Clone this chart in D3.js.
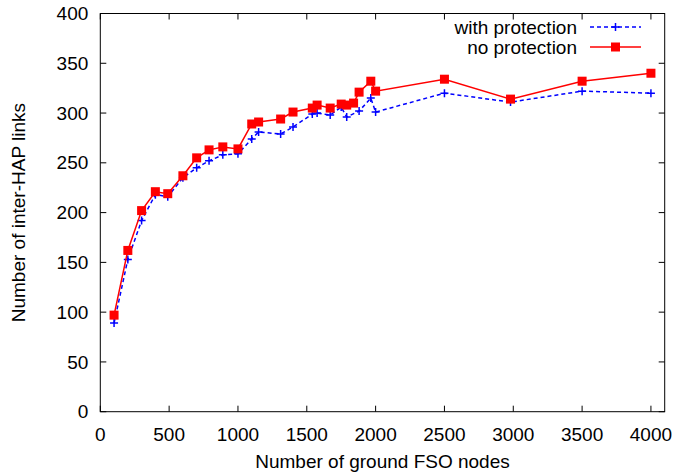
<!DOCTYPE html>
<html>
<head>
<meta charset="utf-8">
<script src="https://cdn.jsdelivr.net/npm/d3@7"></script>
<style>
  body { margin: 0; background: #fff; }
  text { font-family: "Liberation Sans", Arial, sans-serif; fill: #000; }
</style>
</head>
<body>
<div id="chart"></div>
<script>
// Number of ground FSO nodes vs number of inter-HAP links
var xTicks = [0, 500, 1000, 1500, 2000, 2500, 3000, 3500, 4000];
var yTicks = [0, 50, 100, 150, 200, 250, 300, 350, 400];

var protNodes = [100, 200, 300, 400, 490, 600, 700, 790, 890, 1000, 1100, 1150, 1310, 1400, 1540, 1575, 1670, 1750, 1790, 1880, 1965, 2000, 2500, 2980, 3500, 4000];
var protLinks = [89, 153, 192, 218, 216, 235, 245, 252, 258, 259, 274, 281, 279, 286, 299, 300, 298, 306, 296, 302, 315, 301, 320, 311, 322, 320];

var noProtNodes = [100, 200, 300, 400, 490, 600, 700, 790, 890, 1000, 1100, 1150, 1310, 1400, 1540, 1575, 1670, 1750, 1790, 1840, 1880, 1965, 2000, 2500, 2980, 3500, 4000];
var noProtLinks = [97, 162, 202, 221, 219, 237, 255, 263, 266, 264, 289, 291, 294, 301, 305, 308, 305, 309, 308, 310, 321, 332, 322, 334, 314, 332, 340];

var width = 700, height = 475;
var margin = {top: 13.5, right: 35.3, bottom: 63.3, left: 100.3};
var fontSize = 19;

var svg = d3.select("#chart").append("svg")
    .attr("width", width)
    .attr("height", height);

var x = d3.scaleLinear().domain([0, 4100]).range([margin.left, width - margin.right]);
var y = d3.scaleLinear().domain([0, 400]).range([height - margin.bottom, margin.top]);

var tickLen = 6;
var axes = svg.append("g").attr("stroke", "#000").attr("stroke-width", 1);

// mirrored inward ticks on all four sides
xTicks.forEach(function(t) {
    axes.append("line").attr("x1", x(t)).attr("x2", x(t))
        .attr("y1", y(0)).attr("y2", y(0) - tickLen);
    axes.append("line").attr("x1", x(t)).attr("x2", x(t))
        .attr("y1", y(400)).attr("y2", y(400) + tickLen);
});
yTicks.forEach(function(t) {
    axes.append("line").attr("x1", x(0)).attr("x2", x(0) + tickLen)
        .attr("y1", y(t)).attr("y2", y(t));
    axes.append("line").attr("x1", x(4100)).attr("x2", x(4100) - tickLen)
        .attr("y1", y(t)).attr("y2", y(t));
});
axes.append("rect")
    .attr("x", x(0)).attr("y", y(400))
    .attr("width", x(4100) - x(0)).attr("height", y(0) - y(400))
    .attr("fill", "none");

svg.append("g").selectAll("text").data(xTicks).enter().append("text")
    .attr("x", function(d) { return x(d); })
    .attr("y", y(0) + 29)
    .attr("text-anchor", "middle")
    .attr("font-size", fontSize)
    .text(function(d) { return d; });

svg.append("g").selectAll("text").data(yTicks).enter().append("text")
    .attr("x", x(0) - 12)
    .attr("y", function(d) { return y(d); })
    .attr("dy", "0.35em")
    .attr("text-anchor", "end")
    .attr("font-size", fontSize)
    .text(function(d) { return d; });

svg.append("text")
    .attr("x", (x(0) + x(4100)) / 2)
    .attr("y", 468)
    .attr("text-anchor", "middle")
    .attr("font-size", fontSize)
    .text("Number of ground FSO nodes");

svg.append("text")
    .attr("transform", "translate(25," + (y(200)) + ") rotate(-90)")
    .attr("text-anchor", "middle")
    .attr("font-size", fontSize)
    .text("Number of inter-HAP links");

var line = d3.line()
    .x(function(d) { return x(d[0]); })
    .y(function(d) { return y(d[1]); });

var protData = d3.zip(protNodes, protLinks);
var noProtData = d3.zip(noProtNodes, noProtLinks);

// with protection: blue dashed with plus markers
svg.append("path")
    .datum(protData)
    .attr("d", line)
    .attr("fill", "none")
    .attr("stroke", "#0000ff")
    .attr("stroke-width", 1.5)
    .attr("stroke-dasharray", "4,3");

function plus(g, cx, cy, color) {
    g.append("path")
        .attr("d", "M" + (cx - 4) + "," + cy + "h8M" + cx + "," + (cy - 4) + "v8")
        .attr("stroke", color)
        .attr("stroke-width", 1.5)
        .attr("fill", "none");
}

var protMarks = svg.append("g");
protData.forEach(function(d) { plus(protMarks, x(d[0]), y(d[1]), "#0000ff"); });

// no protection: red solid with square markers
svg.append("path")
    .datum(noProtData)
    .attr("d", line)
    .attr("fill", "none")
    .attr("stroke", "#ff0000")
    .attr("stroke-width", 1.5);

svg.append("g").selectAll("rect").data(noProtData).enter().append("rect")
    .attr("x", function(d) { return x(d[0]) - 4.5; })
    .attr("y", function(d) { return y(d[1]) - 4.5; })
    .attr("width", 9)
    .attr("height", 9)
    .attr("fill", "#ff0000");

// legend
var legend = svg.append("g");
var legendX = 577, lineX1 = 590, lineX2 = 641;
legend.append("text").attr("x", legendX).attr("y", 27).attr("dy", "0.35em")
    .attr("text-anchor", "end").attr("font-size", fontSize).text("with protection");
legend.append("line").attr("x1", lineX1).attr("x2", lineX2).attr("y1", 27).attr("y2", 27)
    .attr("stroke", "#0000ff").attr("stroke-width", 1.5).attr("stroke-dasharray", "4,3");
plus(legend, (lineX1 + lineX2) / 2, 27, "#0000ff");

legend.append("text").attr("x", legendX).attr("y", 47).attr("dy", "0.35em")
    .attr("text-anchor", "end").attr("font-size", fontSize).text("no protection");
legend.append("line").attr("x1", lineX1).attr("x2", lineX2).attr("y1", 47).attr("y2", 47)
    .attr("stroke", "#ff0000").attr("stroke-width", 1.5);
legend.append("rect").attr("x", (lineX1 + lineX2) / 2 - 4.5).attr("y", 47 - 4.5)
    .attr("width", 9).attr("height", 9).attr("fill", "#ff0000");
</script>
</body>
</html>
